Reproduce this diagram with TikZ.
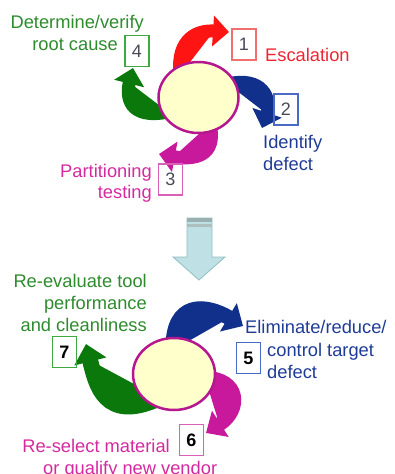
\documentclass[tikz,border=0pt]{standalone}
\usepackage{fontspec}
\setmainfont{Liberation Sans}
\usetikzlibrary{arrows.meta,shapes.geometric}
\definecolor{redA}{HTML}{FF1414}
\definecolor{redT}{HTML}{F02434}
\definecolor{redB}{HTML}{F07070}
\definecolor{blueA}{HTML}{10308C}
\definecolor{blueT}{HTML}{1E3C96}
\definecolor{blueB}{HTML}{4A6AC8}
\definecolor{greenA}{HTML}{0A780A}
\definecolor{greenT}{HTML}{2E8B2E}
\definecolor{greenB}{HTML}{40A840}
\definecolor{magA}{HTML}{C8189C}
\definecolor{magT}{HTML}{D42AA0}
\definecolor{magB}{HTML}{D860B8}
\definecolor{circB}{HTML}{B5178F}
\definecolor{circF}{HTML}{FFFFCC}
\definecolor{numG}{HTML}{4A4A58}
\definecolor{dnF}{HTML}{BFE0E4}
\definecolor{dnD}{HTML}{8FBFC4}
\definecolor{dnG}{HTML}{9AAFAF}
\tikzset{
  lbl/.style={font=\fontsize{18.3}{22}\selectfont, inner sep=0pt},
  numbox/.style={draw, line width=1.1pt, minimum width=24pt, minimum height=31pt, inner sep=0pt, font=\fontsize{18}{20}\selectfont},
  hub/.style={ellipse, draw=circB, fill=circF, line width=2.5pt, inner sep=0pt},
  bigarrow/.style={line width=13pt, -{Triangle[length=16pt,width=30pt]}},
}
\begin{document}
\begin{tikzpicture}[x=1pt,y=-1pt]
\useasboundingbox (0,0) rectangle (394,474);

% ---------------- top cycle ----------------
\coordinate (r0) at (180,75);   \coordinate (r1) at (229,32);
\coordinate (b0) at (228,84);   \coordinate (b1) at (262,128);
\coordinate (m0) at (210,124);  \coordinate (m1) at (159,154);
\coordinate (g0) at (168,112);  \coordinate (g1) at (133,68);
\draw[bigarrow, draw=redA, fill=redA] (r0) .. controls (176,38) and (198,30) .. (r1);
\draw[bigarrow, draw=blueA, fill=blueA] (b0) .. controls (262,76) and (272,98) .. (b1);
\draw[bigarrow, draw=magA, fill=magA] (m0) .. controls (218,158) and (192,160) .. (m1);
\draw[bigarrow, draw=greenA, fill=greenA] (g0) .. controls (128,120) and (126,96) .. (g1);
\node[hub, minimum width=80pt, minimum height=71pt] (c1) at (198.5,97.5) {};

\node[numbox, draw=redB, text=numG] (n1) at (244,44.5) {1};
\node[numbox, draw=greenB, text=numG] (n4) at (137,51) {4};
\node[numbox, draw=blueB, text=numG] (n2) at (286,109.5) {2};
\node[numbox, draw=magB, text=numG] (n3) at (170.5,179.5) {3};

\node[lbl, text=greenT, anchor=base east] (t4a) at (144,28.5) {Determine/verify};
\node[lbl, text=greenT, anchor=base east] (t4b) at (118,50) {root cause};
\node[lbl, text=redT, anchor=base west] (t1) at (265,61) {Escalation};
\node[lbl, text=blueT, anchor=base west] (t2a) at (263,148) {Identify};
\node[lbl, text=blueT, anchor=base west] (t2b) at (263,170) {defect};
\node[lbl, text=magT, anchor=base east] (t3a) at (152,177) {Partitioning};
\node[lbl, text=magT, anchor=base east] (t3b) at (152,198.5) {testing};

% ---------------- down arrow ----------------
\filldraw[fill=dnF, draw=dnD, line width=0.8pt]
  (187,218) -- (212,218) -- (212,257) -- (225,257) -- (199,280) -- (173,257) -- (187,257) -- cycle;
\fill[dnG] (187.4,218.4) rectangle (211.6,222);
\fill[dnG!80] (187.4,224) rectangle (211.6,227);

% ---------------- bottom cycle ----------------
\coordinate (p0) at (173,350);  \coordinate (p1) at (243,326);
\coordinate (q0) at (205,378);  \coordinate (q1) at (206,433);
\coordinate (s0) at (160,398);  \coordinate (s1) at (86,344);
\draw[line width=15pt, -{Triangle[length=17pt,width=32pt]}, draw=blueA, fill=blueA]
  (p0) .. controls (172,300) and (206,304) .. (p1);
\draw[line width=14pt, -{Triangle[length=17pt,width=30pt]}, draw=magA, fill=magA]
  (q0) .. controls (240,378) and (242,410) .. (q1);
\draw[line width=16pt, -{Triangle[length=18pt,width=32pt]}, draw=greenA, fill=greenA]
  (s0) .. controls (104,424) and (96,384) .. (s1);
\node[hub, minimum width=82pt, minimum height=72pt] (c2) at (174,374) {};

\node[numbox, draw=greenB, font=\fontsize{18}{20}\selectfont\bfseries] (n7) at (64.5,352) {7};
\node[numbox, draw=blueB, font=\fontsize{18}{20}\selectfont\bfseries] (n5) at (248.5,358) {5};
\node[numbox, draw=magB, font=\fontsize{18}{20}\selectfont\bfseries] (n6) at (191.5,440) {6};

\node[lbl, text=greenT, anchor=base east] (t7a) at (147,287) {Re-evaluate tool};
\node[lbl, text=greenT, anchor=base east] (t7b) at (147,309) {performance};
\node[lbl, text=greenT, anchor=base east] (t7c) at (147,331.5) {and cleanliness};
\node[lbl, text=blueT, anchor=base west] (t5a) at (245,333) {Eliminate/reduce/};
\node[lbl, text=blueT, anchor=base west] (t5b) at (267,356) {control target};
\node[lbl, text=blueT, anchor=base west] (t5c) at (267,378) {defect};
\node[lbl, text=magT, anchor=base east] (t6a) at (170,452) {Re-select material};
\node[lbl, text=magT, anchor=base west] (t6b) at (43,474) {or qualify new vendor};
\end{tikzpicture}
\end{document}
